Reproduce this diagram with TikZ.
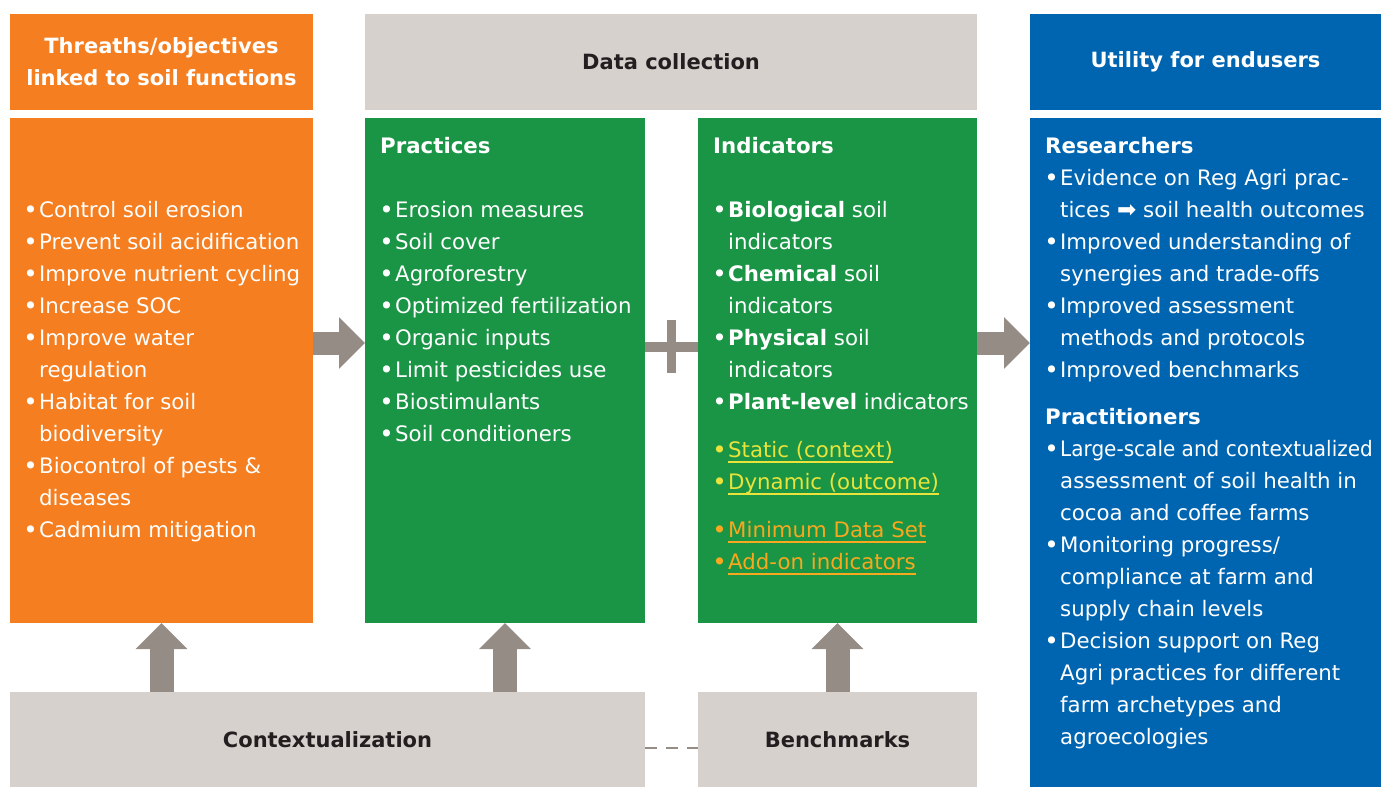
\documentclass[tikz,border=0pt]{standalone}
\usepackage{fontspec}
\setmainfont{DejaVu Sans}
\usetikzlibrary{arrows.meta,calc}
\definecolor{orng}{HTML}{F47E20}
\definecolor{grn}{HTML}{1A9546}
\definecolor{blu}{HTML}{0065B1}
\definecolor{gry}{HTML}{D6D1CD}
\definecolor{agry}{HTML}{958C86}
\definecolor{ylw}{HTML}{E9E33B}
\definecolor{org2}{HTML}{F7A81E}
\definecolor{dark}{HTML}{231F20}
\newcommand\bl{\makebox[15pt][l]{\hspace*{-0.8pt}\raisebox{-1.3pt}{\scalebox{1.15}{•}}}}
\newcommand\ind{\hspace*{15pt}}
\newcommand\ulx[1]{\setbox0\hbox{#1}\rlap{\rule[-5.5pt]{\wd0}{1.3pt}}\box0}
\begin{document}
\begin{tikzpicture}[x=1pt,y=-1pt,
  blk/.style={inner sep=0, anchor=north west, outer sep=0},
  hdr/.style={font=\fontsize{21}{32}\selectfont\bfseries, align=center},
  lst/.style={anchor=base west, inner sep=0, font=\fontsize{21.3}{32}\selectfont},
  barrow/.style={draw=agry, line width=#1, -{Triangle[length=26pt,width=50pt]}, fill=agry},
  barrow/.default=24pt]
\useasboundingbox (0,0) rectangle (1381,787);
% header boxes
\node[blk, hdr, fill=orng, text=white, minimum width=303pt, minimum height=96pt] (oh) at (10,14) {Threaths/objectives\\linked to soil functions};
\node[blk, hdr, fill=gry, text=dark, minimum width=612pt, minimum height=96pt] (dh) at (365,14) {Data collection};
\node[blk, hdr, fill=blu, text=white, minimum width=351pt, minimum height=96pt] (uh) at (1030,14) {Utility for endusers};
% body boxes
\node[blk, fill=orng, minimum width=303pt, minimum height=505pt] (ob) at (10,118) {};
\node[blk, fill=grn, minimum width=280pt, minimum height=505pt] (pb) at (365,118) {};
\node[blk, fill=grn, minimum width=279pt, minimum height=505pt] (ib) at (698,118) {};
\node[blk, fill=blu, minimum width=351pt, minimum height=669pt] (ub) at (1030,118) {};
\node[blk, hdr, fill=gry, text=dark, minimum width=635pt, minimum height=95pt, text depth=-2pt] (cb) at (10,692) {Contextualization};
\node[blk, hdr, fill=gry, text=dark, minimum width=279pt, minimum height=95pt, text depth=-2pt] (bb) at (698,692) {Benchmarks};
% helper coordinates
\coordinate (ay) at (0,343);
\coordinate (py) at (0,347);
\coordinate (dy) at (0,748);
% arrows
\draw[barrow=23pt] (ob.east |- ay) -- (pb.west |- ay);
\draw[barrow=23pt] (ib.east |- ay) -- (ub.west |- ay);
\draw[barrow] (ob.south |- cb.north) -- (ob.south);
\draw[barrow] (pb.south |- cb.north) -- (pb.south);
\draw[barrow] (ib.south |- bb.north) -- (ib.south);
% plus
\coordinate (pc) at ($(pb.east |- py)!0.5!(ib.west |- py)$);
\draw[agry, line width=10pt] (pb.east |- py) -- (ib.west |- py);
\draw[agry, line width=9.5pt] ([yshift=27pt]pc) -- ([yshift=-26pt]pc);
% dashed link
\draw[agry, line width=2.7pt, dash pattern=on 12pt off 9pt] (cb.east |- dy) -- (bb.west |- dy);
% texts
\node[lst, text=white] (ol) at (24,217) {\begin{tabular}[t]{@{}l@{}}
\bl Control soil erosion\\
\bl Prevent soil acidification\\
\bl Improve nutrient cycling\\
\bl Increase SOC\\
\bl Improve water\\
\ind regulation\\
\bl Habitat for soil\\
\ind biodiversity\\
\bl Biocontrol of pests \&\\
\ind diseases\\
\bl Cadmium mitigation
\end{tabular}};
\node[lst, text=white] (pl) at (380,153) {\begin{tabular}[t]{@{}l@{}}
\textbf{Practices}\\
\\
\bl Erosion measures\\
\bl Soil cover\\
\bl Agroforestry\\
\bl Optimized fertilization\\
\bl Organic inputs\\
\bl Limit pesticides use\\
\bl Biostimulants\\
\bl Soil conditioners
\end{tabular}};
\node[lst, text=white] (il) at (713,153) {\begin{tabular}[t]{@{}l@{}}
\textbf{Indicators}\\
\\
\bl\textbf{Biological} soil\\
\ind indicators\\
\bl\textbf{Chemical} soil\\
\ind indicators\\
\bl\textbf{Physical} soil\\
\ind indicators\\
\bl\textbf{Plant-level} indicators\\[16pt]
\textcolor{ylw}{\bl\ulx{Static (context)}}\\
\textcolor{ylw}{\bl\ulx{Dynamic (outcome)}}\\[16pt]
\textcolor{org2}{\bl\ulx{Minimum Data Set}}\\
\textcolor{org2}{\bl\ulx{Add-on indicators}}
\end{tabular}};
\node[lst, text=white] (ul) at (1045,153) {\begin{tabular}[t]{@{}l@{}}
\textbf{Researchers}\\
\bl Evidence on Reg Agri prac-\\
\ind tices {\fontsize{23}{23}\selectfont ➡} soil health outcomes\\
\bl Improved understanding of\\
\ind synergies and trade-offs\\
\bl Improved assessment\\
\ind methods and protocols\\
\bl Improved benchmarks\\[15pt]
\textbf{Practitioners}\\
\bl \scalebox{0.94}[1]{Large-scale and contextualized}\\
\ind assessment of soil health in\\
\ind cocoa and coffee farms\\
\bl Monitoring progress/\\
\ind compliance at farm and\\
\ind supply chain levels\\
\bl Decision support on Reg\\
\ind Agri practices for different\\
\ind farm archetypes and\\
\ind agroecologies
\end{tabular}};
\end{tikzpicture}
\end{document}
